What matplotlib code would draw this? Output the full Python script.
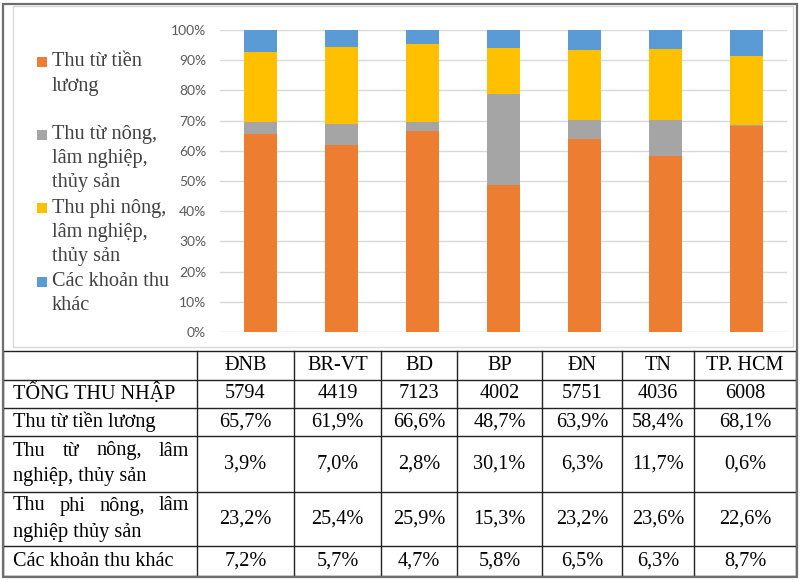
import matplotlib
matplotlib.use("Agg")
import matplotlib.pyplot as plt
from matplotlib.patches import Rectangle
import numpy as np

# ---------------- data ----------------
categories = ["ĐNB", "BR-VT", "BD", "BP", "ĐN", "TN", "TP. HCM"]
total_income = [5794, 4419, 7123, 4002, 5751, 4036, 6008]
wages = [65.7, 61.9, 66.6, 48.7, 63.9, 58.4, 68.1]
agri = [3.9, 7.0, 2.8, 30.1, 6.3, 11.7, 0.6]
non_agri = [23.2, 25.4, 25.9, 15.3, 23.2, 23.6, 22.6]
other = [7.2, 5.7, 4.7, 5.8, 6.5, 6.3, 8.7]

legend_labels = ["Thu từ tiền\nlương", "Thu từ nông,\nlâm nghiệp,\nthủy sản",
                 "Thu phi nông,\nlâm nghiệp,\nthủy sản", "Các khoản thu\nkhác"]
row_labels = ["TỔNG THU NHẬP", "Thu từ tiền lương",
              ["Thu từ nông, lâm", "nghiệp, thủy sản"],
              ["Thu phi nông, lâm", "nghiệp thủy sản"],
              "Các khoản thu khác"]
yticks = [0, 10, 20, 30, 40, 50, 60, 70, 80, 90, 100]

colors = ["#ED7D31", "#A5A5A5", "#FFC000", "#5B9BD5"]

W, H = 800, 580
fig = plt.figure(figsize=(W / 100, H / 100), dpi=100)

# overlay axes in pixel coordinates
ov = fig.add_axes([0, 0, 1, 1])
ov.set_xlim(0, W)
ov.set_ylim(H, 0)
ov.axis("off")
ov.patch.set_alpha(0)

# ---------------- chart ----------------
ax = fig.add_axes([220 / W, 1 - 332 / H, 567 / W, 302 / H])
series = [wages, agri, non_agri, other]
arr = np.array(series, dtype=float)
norm = arr / arr.sum(axis=0)
x = np.arange(len(categories))
bottom = np.zeros(len(categories))
for vals, c in zip(norm, colors):
    ax.bar(x, vals, 0.41, bottom=bottom, color=c, zorder=3)
    bottom += vals
ax.set_xlim(-0.5, len(categories) - 0.5)
ax.set_ylim(0, 1)
ax.set_yticks([t / 100 for t in yticks])
ax.set_yticklabels([f"{t}%" for t in yticks], fontfamily="Lato", fontsize=10, color="#595959")
ax.tick_params(axis="y", length=0, pad=10)
ax.set_xticks([])
ax.grid(axis="y", color="#d9d9d9", linewidth=1.0, zorder=0)
for s in ax.spines.values():
    s.set_visible(False)

# ---------------- frames ----------------
ov.add_patch(Rectangle((13, 6), 780, 341, fill=False, edgecolor="#d9d9d9", linewidth=1.0))
ov.add_patch(Rectangle((3, 4), 794, 573, fill=False, edgecolor="#6e6e6e", linewidth=1.6, zorder=5))

# ---------------- legend ----------------
leg_y = [62, 135, 208, 282]
for lab, c, y0 in zip(legend_labels, colors, leg_y):
    ov.add_patch(Rectangle((37, y0 - 5), 10, 10, color=c, linewidth=0))
    for i, line in enumerate(lab.split("\n")):
        ov.text(52, y0 + i * 24, line, fontfamily="Liberation Serif", fontsize=14.6,
                color="#404040", va="center", ha="left")

# ---------------- table ----------------
col_edges = [3, 197, 294, 381, 457, 542, 622, 694, 796]
row_edges = [351, 380, 408, 436, 492, 546, 576]
lc = "#222222"
for yy in row_edges:
    ov.plot([3, 796], [yy, yy], color=lc, linewidth=1.0)
for xx in col_edges:
    ov.plot([xx, xx], [row_edges[0], row_edges[-1]], color=lc, linewidth=1.0)

tfont = dict(fontfamily="Liberation Serif", fontsize=14.6, color="black")
renderer = fig.canvas.get_renderer()

def cy(r):
    return (row_edges[r] + row_edges[r + 1]) / 2

def cx(c):
    return (col_edges[c] + col_edges[c + 1]) / 2

# header
for j, cat in enumerate(categories):
    ov.text(cx(j + 1), cy(0), cat, ha="center", va="center", **tfont)

def justified(words_line, left, right, y):
    words = words_line.split(" ")
    texts = [ov.text(0, y, w, ha="left", va="center", **tfont) for w in words]
    widths = [t.get_window_extent(renderer).width for t in texts]
    gap = (right - left - sum(widths)) / (len(words) - 1)
    pos = left
    for t, w in zip(texts, widths):
        t.set_x(pos)
        pos += w + gap

table_vals = [total_income, wages, agri, non_agri, other]
for i, (lab, vals) in enumerate(zip(row_labels, table_vals)):
    r = i + 1
    if isinstance(lab, list):
        c0 = cy(r)
        justified(lab[0], 13, 189, c0 - 13)
        ov.text(13, c0 + 13, lab[1], ha="left", va="center", **tfont)
    else:
        ov.text(13, cy(r), lab, ha="left", va="center", **tfont)
    for j, v in enumerate(vals):
        s = str(v) if i == 0 else f"{v:.1f}%".replace(".", ",")
        ov.text(cx(j + 1), cy(r), s, ha="center", va="center", **tfont)

fig.savefig("out.png", dpi=100)
